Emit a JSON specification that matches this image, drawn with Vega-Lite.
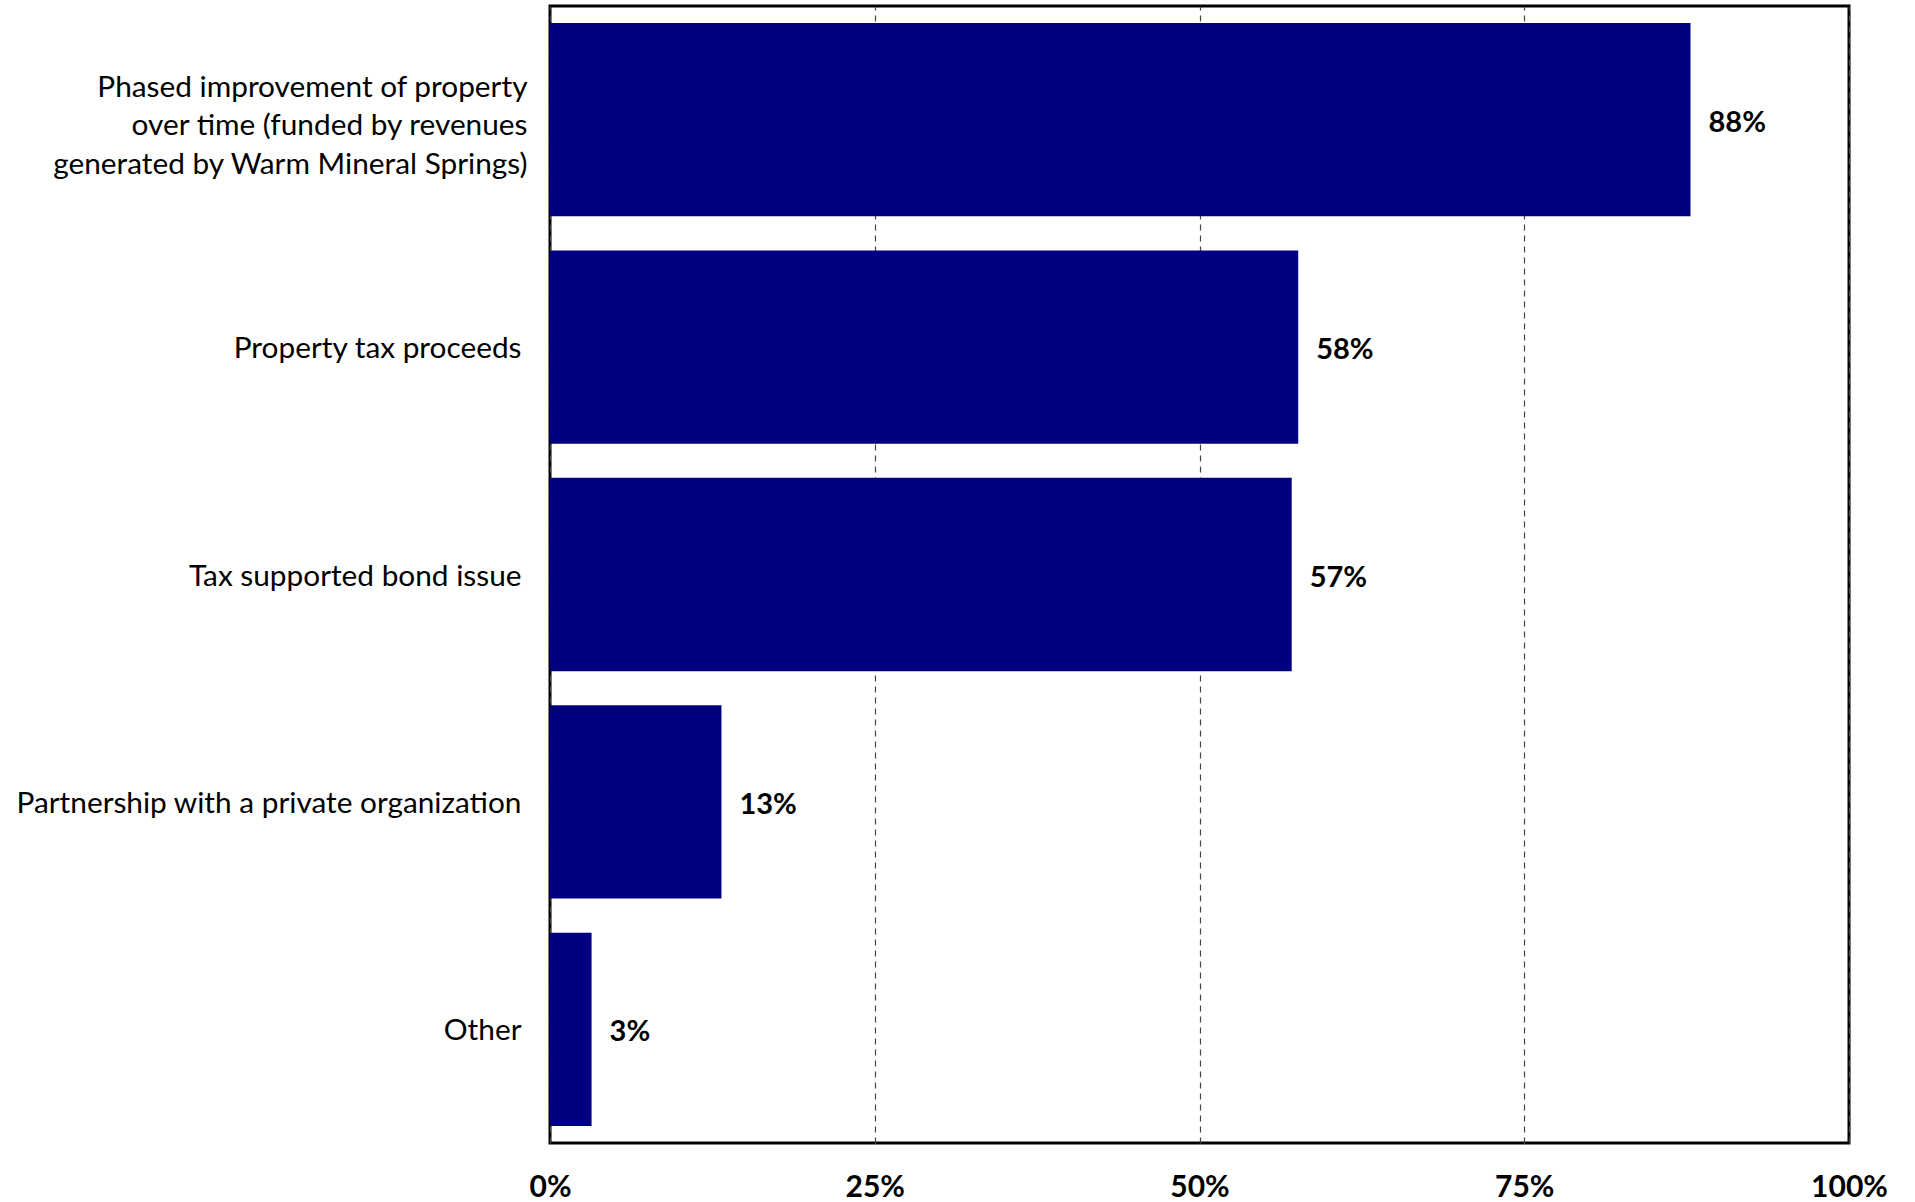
{
  "$schema": "https://vega.github.io/schema/vega-lite/v6.json",
  "autosize": {"type": "none"},
  "width": 1299,
  "height": 1137,
  "padding": {"left": 550, "top": 6, "right": 66, "bottom": 59},
  "background": "white",
  "config": {
    "view": {"stroke": "black", "strokeWidth": 3},
    "font": "Lato"
  },
  "data": {
    "values": [
      {"category": "Phased improvement of property|over time (funded by revenues|generated by Warm Mineral Springs)", "value": 0.878, "order": 1},
      {"category": "Property tax proceeds", "value": 0.576, "order": 2},
      {"category": "Tax supported bond issue", "value": 0.571, "order": 3},
      {"category": "Partnership with a private organization", "value": 0.132, "order": 4},
      {"category": "Other", "value": 0.032, "order": 5}
    ]
  },
  "encoding": {
    "y": {
      "field": "category",
      "type": "nominal",
      "sort": {"field": "order"},
      "scale": {"paddingInner": 0.15, "paddingOuter": 0.075},
      "axis": {
        "title": null,
        "domain": false,
        "ticks": false,
        "labelExpr": "split(datum.label, '|')",
        "labelFontSize": 29.8,
        "labelLineHeight": 38.5,
        "labelColor": "black",
        "labelOffset": {"condition": {"test": "indexof(datum.value, '|') >= 0", "value": -32}, "value": 2},
        "labelPadding": {"condition": {"test": "indexof(datum.value, '|') >= 0", "value": 23}, "value": 29},
        "labelLimit": 800
      }
    },
    "x": {
      "field": "value",
      "type": "quantitative",
      "scale": {"domain": [0, 1], "nice": false},
      "axis": {
        "title": null,
        "values": [0, 0.25, 0.5, 0.75, 1],
        "format": ".0%",
        "domain": false,
        "ticks": false,
        "grid": true,
        "gridColor": "#444444",
        "gridDash": [6, 5],
        "gridWidth": 1.2,
        "labelFontSize": 30,
        "labelFontWeight": "bold",
        "labelColor": "black",
        "labelPadding": 29,
        "labelFlush": false
      }
    }
  },
  "layer": [
    {"mark": {"type": "bar", "color": "#000080"}},
    {
      "mark": {"type": "text", "align": "left", "baseline": "middle", "dx": 18, "dy": 3, "fontSize": 29, "fontWeight": "bold", "color": "black"},
      "encoding": {"text": {"field": "value", "type": "quantitative", "format": ".0%"}}
    }
  ]
}
